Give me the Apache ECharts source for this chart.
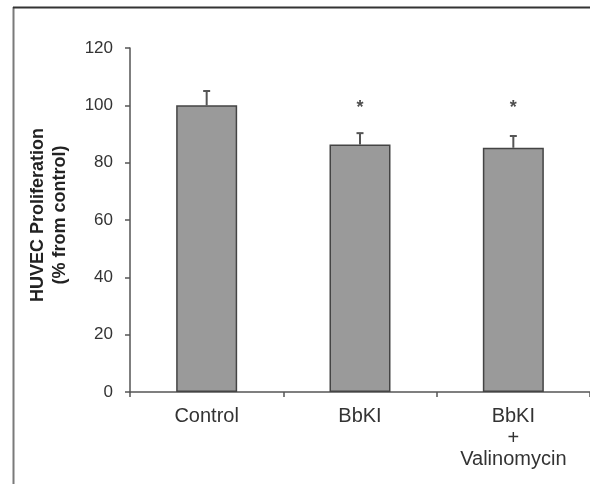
<!DOCTYPE html>
<html><head><meta charset="utf-8">
<script src="https://cdn.jsdelivr.net/npm/echarts@6/dist/echarts.min.js"></script>
<style>html,body{margin:0;padding:0;background:#fff}#c{width:590px;height:484px}</style>
</head><body><div id="c"></div>
<script>
var categories = ['Control', 'BbKI', 'BbKI\n+\nValinomycin'];
var means = [100, 86.3, 85.2];
var errors = [5, 4, 4.1];
var significance = ['', '*', '*'];
var sigLevel = [100.5, 100.5, 100.5];
var yTicks = [0, 20, 40, 60, 80, 100, 120];

var chart = echarts.init(document.getElementById('c'));
chart.setOption({
  animation: false,
  backgroundColor: '#fff',
  grid: {left: 130, right: -2, top: 48, bottom: 92},
  graphic: [
    {type: 'line', shape: {x1: 13.5, y1: 7, x2: 13.5, y2: 484}, style: {stroke: '#7a7a7a', lineWidth: 2}},
    {type: 'line', shape: {x1: 13, y1: 7.5, x2: 590, y2: 7.5}, style: {stroke: '#333', lineWidth: 2}},
    {type: 'text', rotation: Math.PI / 2, x: 49, y: 215, style: {
      text: 'HUVEC Proliferation\n(% from control)', fill: '#222', fontFamily: 'Liberation Sans, Arial', fontSize: 18, fontWeight: 'bold', align: 'center', verticalAlign: 'middle', lineHeight: 22
    }}
  ],
  xAxis: {
    type: 'category', data: categories,
    axisLine: {lineStyle: {color: '#555', width: 1.5}},
    axisTick: {show: true, length: 5, lineStyle: {color: '#555', width: 1.5}},
    axisLabel: {color: '#333', fontFamily: 'Liberation Sans, Arial', fontSize: 20, margin: 14, lineHeight: 21.5}
  },
  yAxis: {
    type: 'value', min: yTicks[0], max: yTicks[yTicks.length - 1], interval: 20,
    splitLine: {show: false},
    axisLine: {show: true, lineStyle: {color: '#555', width: 1.5}},
    axisTick: {show: true, length: 5, lineStyle: {color: '#555', width: 1.5}},
    axisLabel: {color: '#333', fontFamily: 'Liberation Sans, Arial', fontSize: 17, margin: 17}
  },
  series: [
    {type: 'bar', data: means, barWidth: 61, z: 2,
      itemStyle: {color: '#9a9a9a', borderColor: '#444', borderWidth: 1.5}},
    {type: 'custom', z: 1,
      data: means.map(function (m, i) { return [i, m, m + errors[i]]; }),
      renderItem: function (params, api) {
        var p0 = api.coord([api.value(0), api.value(1)]);
        var p1 = api.coord([api.value(0), api.value(2)]);
        var st = {stroke: '#555', lineWidth: 2};
        return {type: 'group', children: [
          {type: 'line', shape: {x1: p0[0], y1: p0[1], x2: p1[0], y2: p1[1]}, style: st},
          {type: 'line', shape: {x1: p1[0] - 3.5, y1: p1[1], x2: p1[0] + 3.5, y2: p1[1]}, style: st}
        ]};
      }},
    {type: 'scatter', symbolSize: 0, z: 3,
      data: sigLevel.map(function (v, i) { return {value: [i, v], label: {formatter: significance[i]}}; }),
      label: {show: true, position: 'inside', color: '#222', fontSize: 18, fontWeight: 'bold', fontFamily: 'Liberation Sans, Arial', offset: [0, 4]}}
  ]
});
</script></body></html>
